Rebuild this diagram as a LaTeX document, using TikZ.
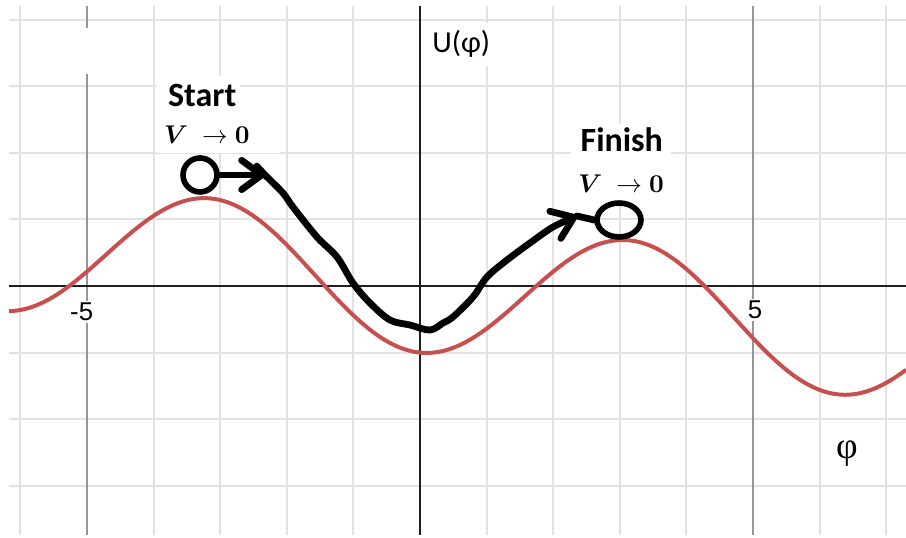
\documentclass[tikz,border=0pt]{standalone}
\usepackage{bm}
\usepackage{fontspec}
\usetikzlibrary{arrows.meta,shapes.geometric}
\newfontfamily\calfont{Carlito}
\newfontfamily\arialfont{Liberation Sans}
\newfontfamily\timesfont{Liberation Serif}
\definecolor{gridgray}{RGB}{226,226,226}
\definecolor{majorgray}{RGB}{150,150,150}
\definecolor{curvered}{RGB}{199,80,78}
\definecolor{axisblack}{RGB}{30,30,30}
\newcommand{\vzero}{$\bm{V}\;\;{\to}\;\bm{0}$}
\tikzset{
  gridminor/.style={draw=gridgray, line width=0.8pt},
  gridmajor/.style={draw=majorgray, line width=0.7pt},
  axisline/.style={draw=axisblack, line width=1.1pt},
  redcurve/.style={draw=curvered, line width=1.7pt},
  handline/.style={draw=black, line width=2.9pt, line cap=round, line join=round},
  chev/.style={-{Straight Barb[length=3mm,width=4.4mm,round]}},
  ball/.style={draw=black, line width=2.4pt},
  ticklab/.style={font=\arialfont\fontsize{11}{13}\selectfont, fill=white, inner sep=1pt},
  titlelab/.style={font=\calfont\bfseries\fontsize{14.5}{17}\selectfont, inner sep=0pt},
  vlab/.style={font=\fontsize{11}{13}\selectfont, inner sep=0pt},
}
\begin{document}
\begin{tikzpicture}[x=1cm,y=1cm]
\useasboundingbox (-6.306,-3.769) rectangle (7.297,4.294);
% grid
\foreach \x in {-6,-4,-3,-2,-1,1,2,3,4,6,7}
  \draw[gridminor] (\x,-3.739) -- (\x,4.204);
\foreach \y in {-3,-2,-1,1,2,3,4}
  \draw[gridminor] (-6.171,\y) -- (7.297,\y);
\foreach \x in {-5,5}
  \draw[gridmajor] (\x,-3.739) -- (\x,4.204);
% axes
\draw[axisline] (-6.171,0) -- (7.297,0);
\draw[axisline] (0,-3.739) -- (0,4.204);
% white patches of the pasted labels
\fill[white] (-5.10,3.874) rectangle (-4.86,3.183);
\fill[white] (-3.949,3.153) rectangle (-2.703,1.997);
\fill[white] (-3.949,2.523) rectangle (-2.102,1.997);
\fill[white] (2.267,2.427) rectangle (3.769,1.291);
\fill[white] (0.08,3.95) rectangle (1.08,3.30);
\fill[white] (6.157,-2.117) rectangle (6.757,-2.823);
% potential curve
\draw[redcurve] plot[domain=-6.171:7.297, samples=240, smooth] (\x,{-cos(\x r)-0.1*\x});
% labels
\node[ticklab] (m5) at (-5.08,-0.39) {-5};
\node[ticklab] (p5) at (5.03,-0.36) {5};
\node[font=\calfont\fontsize{13}{15}\selectfont, inner sep=1pt] (ulab) at (0.62,3.63) {U(φ)};
\node[font=\timesfont\fontsize{16}{18}\selectfont, inner sep=0pt] (philab) at (6.411,-2.52) {φ};
\node[titlelab] (starttxt) at (-3.27,2.86) {Start};
\node[vlab] (startv) at (-3.20,2.27) {\vzero};
\node[titlelab] (finishtxt) at (3.03,2.19) {Finish};
\node[vlab] (finishv) at (3.02,1.53) {\vzero};
% balls
\node[ball, circle, minimum size=0.51cm, inner sep=0pt] (start) at (-3.303,1.667) {};
\node[ball, ellipse, minimum width=0.66cm, minimum height=0.51cm, inner sep=0pt] (finish) at (2.988,0.991) {};
% hand drawn path
\coordinate (a1) at (-2.327,1.667);
\coordinate (a2) at (2.357,1.051);
\draw[handline, chev] (start.east) -- (a1);
\draw[handline, chev] plot[smooth, tension=0.55] coordinates {
  (-2.45,1.80) (a1) (-2.057,1.396) (-1.907,1.186) (-1.547,0.736) (-1.246,0.435)
  (-1.006,0.045) (-0.751,-0.255) (-0.450,-0.511) (-0.150,-0.586) (0.150,-0.661)
  (0.345,-0.556) (0.495,-0.465) (0.796,-0.165) (1.006,0.135) (1.306,0.390)
  (1.652,0.646) (1.997,0.886) (a2)};
\draw[handline] (a2) -- (finish.west);
\end{tikzpicture}
\end{document}
